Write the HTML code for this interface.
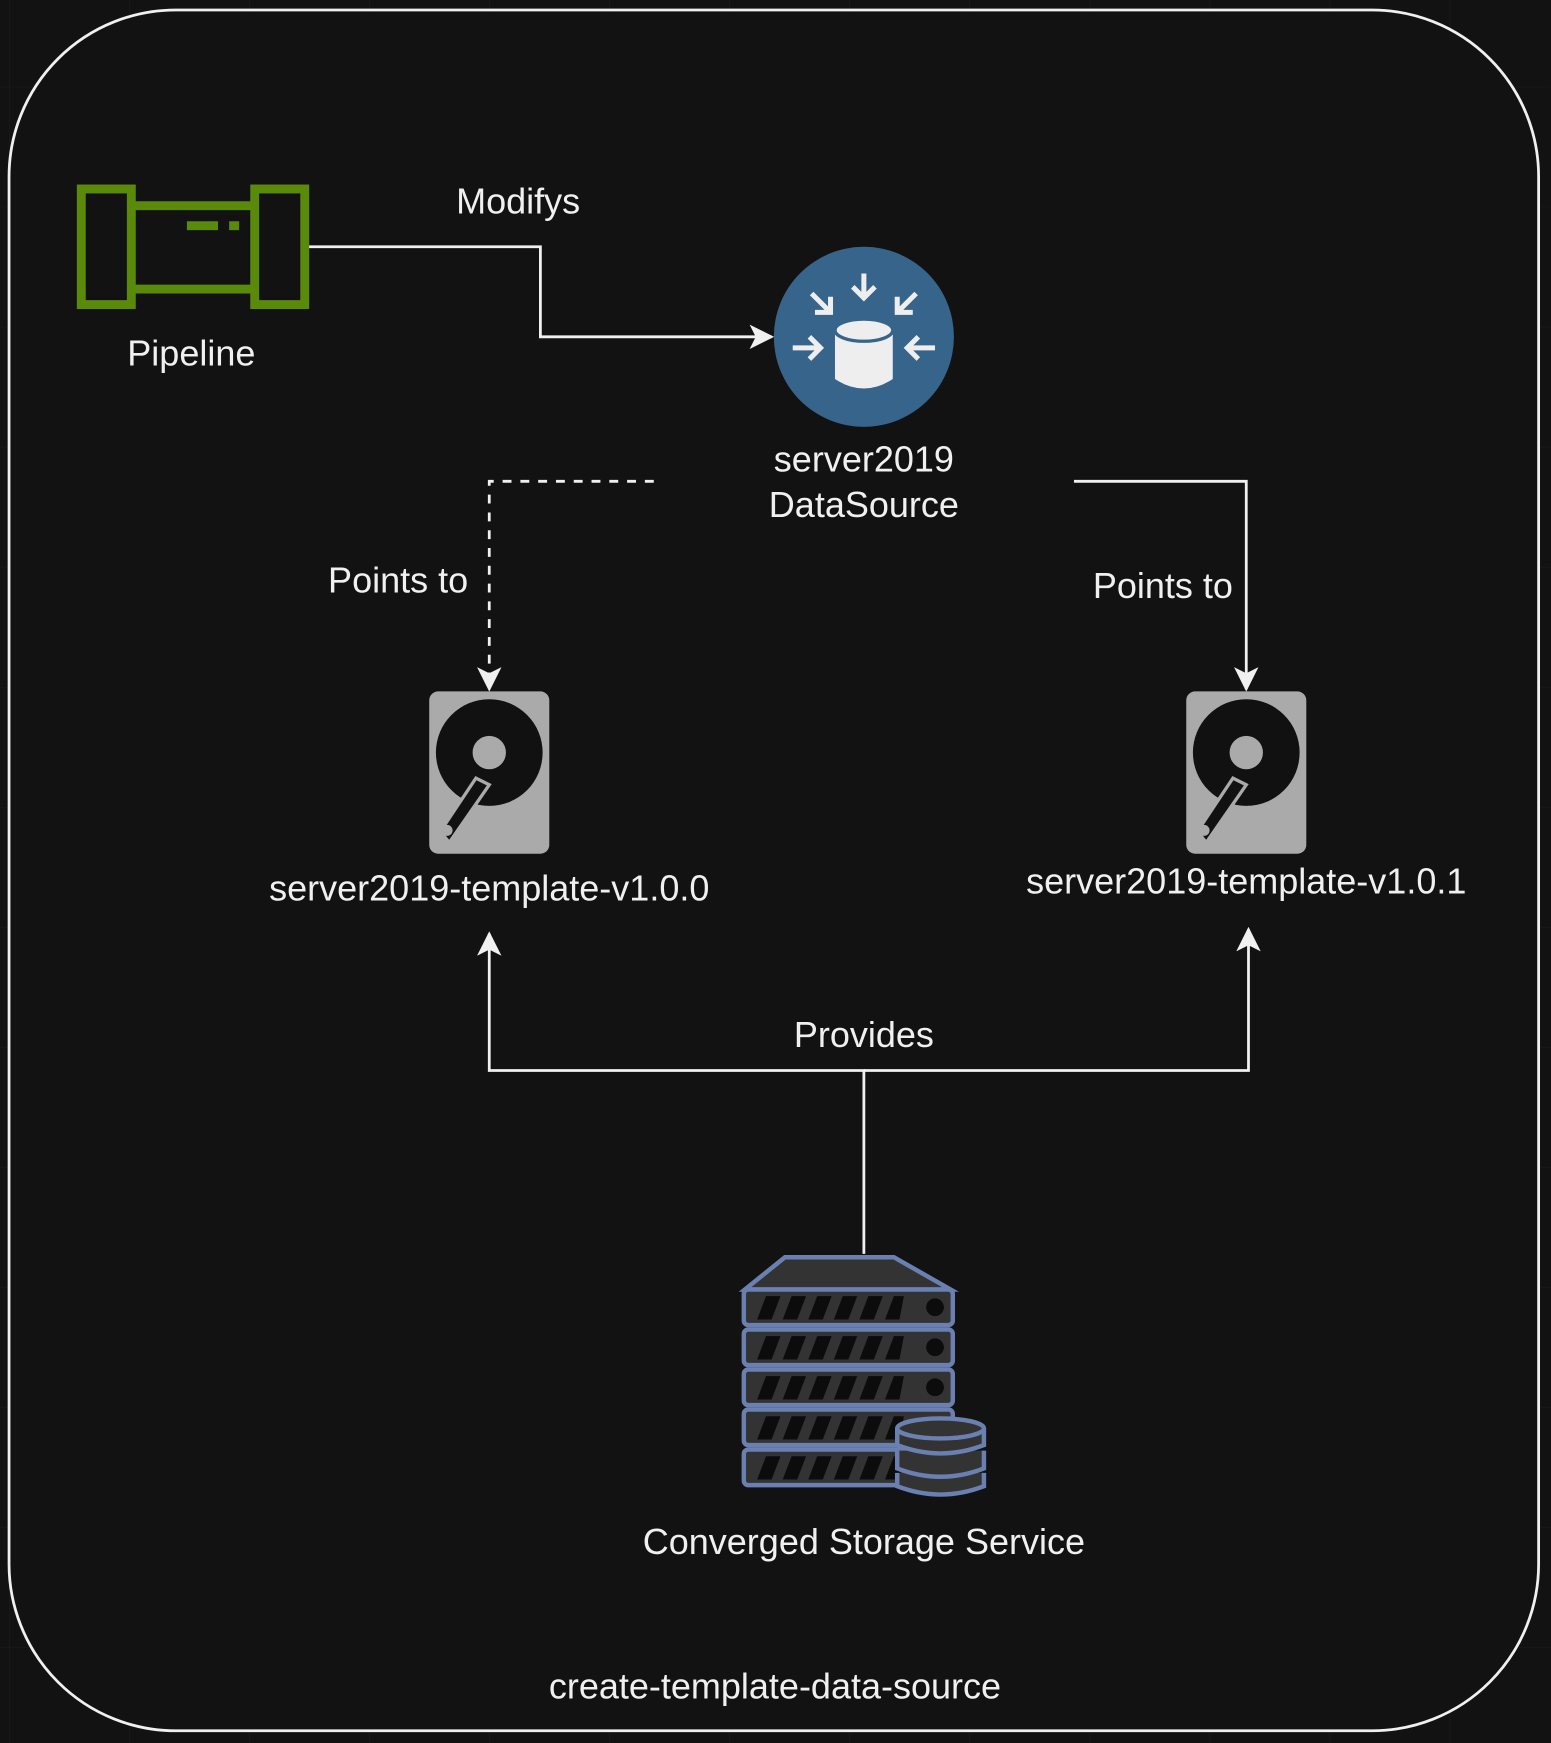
<!DOCTYPE html>
<html><head><meta charset="utf-8"><style>
html,body{margin:0;padding:0;background:#121212;}
svg{display:block;}
text{font-family:"Liberation Sans",sans-serif;fill:#f0f0f0;font-size:32.4px;}
</style></head><body>
<svg width="1551" height="1743" viewBox="0 0 1395 1568" xmlns="http://www.w3.org/2000/svg">
<defs>
<pattern id="g" width="108" height="108" patternUnits="userSpaceOnUse" x="8" y="-30">
<path d="M0 0H108M0 0V108" stroke="#1c1c1c" stroke-width="1" fill="none"/>
</pattern>
<marker id="ar" viewBox="0 0 20 20" refX="18" refY="10" markerWidth="22" markerHeight="22" markerUnits="userSpaceOnUse" orient="auto">
<path d="M0 0 L20 10 L0 20 L5 10 Z" fill="#f0f0f0"/>
</marker>
</defs>
<rect width="1395" height="1568" fill="#121212"/>
<rect width="1395" height="1568" fill="url(#g)"/>
<rect x="8" y="9" width="1376" height="1548" rx="150" fill="#121212" stroke="#f0f0f0" stroke-width="2.5"/>

<g fill="none" stroke="#f0f0f0" stroke-width="2.5">
<path d="M276 222 H486 V303 H694" marker-end="url(#ar)"/>
<path d="M588 433 H440 V620" stroke-dasharray="8,8" marker-end="url(#ar)"/>
<path d="M966 433 H1121 V620" marker-end="url(#ar)"/>
<path d="M777 1128 V963 H440 V840" marker-end="url(#ar)"/>
<path d="M777 963 H1123 V836" marker-end="url(#ar)"/>
</g>

<g fill="none" stroke="#5a8a0a" stroke-width="8">
<rect x="73" y="170" width="45" height="104"/>
<rect x="229" y="170" width="45" height="104"/>
<path d="M118 185 H229 M118 260 H229"/>
<path d="M168 203 H196 M206 203 H215"/>
</g>

<circle cx="777" cy="303" r="81" fill="#36648b"/>
<g stroke="#eeeeee" stroke-width="4.5" fill="none">
<path d="M777 246 V268 M767 258 L777 268 L787 258"/>
<path d="M730 264 L747 281 M733 281 H747 V267"/>
<path d="M824 264 L807 281 M821 281 H807 V267"/>
<path d="M713 313 H738 M728 303 L738 313 L728 323"/>
<path d="M841 313 H816 M826 303 L816 313 L826 323"/>
</g>
<path d="M751 297 V341 Q777 358 803 341 V297 Z" fill="#eeeeee"/>
<ellipse cx="777" cy="297" rx="26" ry="10" fill="#eeeeee" stroke="#36648b" stroke-width="3"/>

<g id="d1">
<rect x="386" y="622" width="108" height="146" rx="8" fill="#aaaaaa"/>
<circle cx="440" cy="677" r="48" fill="#111"/>
<circle cx="440" cy="677" r="15" fill="#aaaaaa"/>
<path d="M428 700 L396 748 L404 758 L440 706 Z" fill="#111" stroke="#aaaaaa" stroke-width="3"/>
<circle cx="402" cy="747" r="5" fill="#aaaaaa"/>
</g>
<use href="#d1" x="681"/>

<g stroke="#6a80b0" stroke-width="4" fill="#333">
<path d="M706 1131 H804 L855 1160 H670 Z"/>
<rect x="669" y="1160" width="188" height="32" rx="4"/>
<rect x="669" y="1196" width="188" height="32" rx="4"/>
<rect x="669" y="1232" width="188" height="32" rx="4"/>
<rect x="669" y="1268" width="188" height="32" rx="4"/>
<rect x="669" y="1304" width="188" height="32" rx="4"/>
</g>
<g fill="#0c0c0c">
<path id="st" d="M689 1166 H702 L694 1187 H681 Z M712 1166 H725 L717 1187 H704 Z M735 1166 H748 L740 1187 H727 Z M758 1166 H771 L763 1187 H750 Z M781 1166 H794 L786 1187 H773 Z M804 1166 H813 L809 1187 H796 Z"/>
<use href="#st" y="36"/><use href="#st" y="72"/><use href="#st" y="108"/><use href="#st" y="144"/>
<circle cx="841" cy="1176" r="8"/><circle cx="841" cy="1212" r="8"/><circle cx="841" cy="1248" r="8"/>
</g>
<g stroke="#6a80b0" stroke-width="4" fill="#333">
<path d="M807 1325 V1337 Q846 1352 885 1337 V1325"/>
<path d="M807 1305 V1321 Q846 1336 885 1321 V1305"/>
<path d="M807 1285 V1300 Q846 1315 885 1300 V1285"/>
<ellipse cx="846" cy="1285" rx="39" ry="9"/>
</g>

<text x="172" y="329" text-anchor="middle">Pipeline</text>
<text x="466" y="192" text-anchor="middle">Modifys</text>
<text x="777" y="424" text-anchor="middle">server2019</text>
<text x="777" y="465" text-anchor="middle">DataSource</text>
<text x="358" y="533" text-anchor="middle">Points to</text>
<text x="1046" y="538" text-anchor="middle">Points to</text>
<text x="440" y="810" text-anchor="middle">server2019-template-v1.0.0</text>
<text x="1121" y="804" text-anchor="middle">server2019-template-v1.0.1</text>
<text x="777" y="942" text-anchor="middle">Provides</text>
<text x="777" y="1398" text-anchor="middle">Converged Storage Service</text>
<text x="697" y="1528" text-anchor="middle">create-template-data-source</text>
</svg>
</body></html>
